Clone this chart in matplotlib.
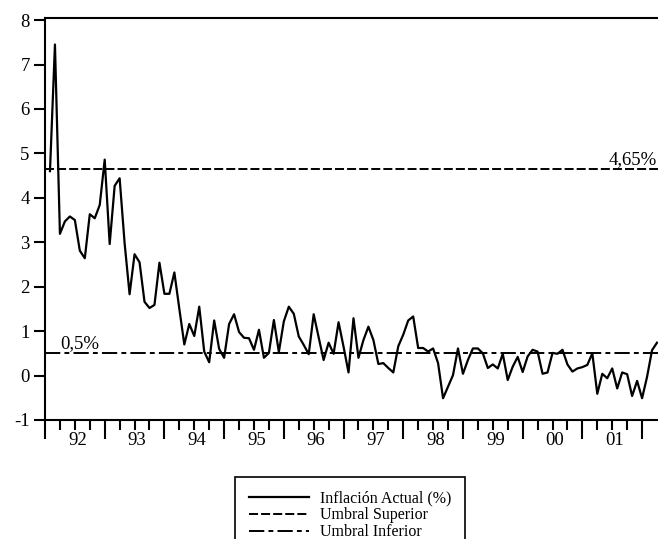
import matplotlib
matplotlib.use('Agg')
import matplotlib.pyplot as plt
import numpy as np

plt.rcParams['font.family'] = ['Liberation Serif', 'DejaVu Serif']
plt.rcParams['lines.scale_dashes'] = False
plt.rcParams['axes.unicode_minus'] = False

# monthly inflation (%), Jan 1992 - Mar 2002
inflacion = [
    4.60, 7.45, 3.19, 3.47, 3.58, 3.50, 2.81, 2.64, 3.63, 3.54, 3.84, 4.86,
    2.96, 4.27, 4.44, 2.98, 1.83, 2.73, 2.55, 1.66, 1.52, 1.59, 2.54, 1.84,
    1.84, 2.32, 1.50, 0.70, 1.16, 0.89, 1.55, 0.54, 0.30, 1.24, 0.60, 0.40,
    1.16, 1.38, 0.98, 0.85, 0.84, 0.58, 1.03, 0.40, 0.51, 1.25, 0.53, 1.22,
    1.55, 1.39, 0.88, 0.69, 0.48, 1.38, 0.86, 0.35, 0.74, 0.49, 1.20, 0.65,
    0.07, 1.29, 0.40, 0.80, 1.10, 0.80, 0.26, 0.28, 0.17, 0.07, 0.66, 0.92,
    1.24, 1.33, 0.62, 0.62, 0.54, 0.61, 0.28, -0.51, -0.25, 0.01, 0.61, 0.04,
    0.35, 0.61, 0.61, 0.50, 0.17, 0.25, 0.16, 0.49, -0.10, 0.20, 0.42, 0.08,
    0.43, 0.58, 0.54, 0.04, 0.07, 0.51, 0.49, 0.58, 0.25, 0.09, 0.16, 0.19,
    0.24, 0.50, -0.41, 0.04, -0.06, 0.16, -0.29, 0.07, 0.03, -0.46, -0.12, -0.51,
    -0.03, 0.57, 0.74,
]
umbral_sup = 4.65
umbral_inf = 0.5
anios = ['92', '93', '94', '95', '96', '97', '98', '99', '00', '01']

fig = plt.figure(figsize=(6.58, 5.39), dpi=100)
ax = fig.add_axes([45 / 658, 119 / 539, 613 / 658, 401.7 / 539])

x = np.arange(len(inflacion))
l1, = ax.plot(x, inflacion, color='black', lw=1.6, label='Inflación Actual (%)')
l2 = ax.axhline(umbral_sup, color='black', lw=1.4, dashes=(6.5, 2.2),
                label='Umbral Superior')
l3 = ax.axhline(umbral_inf, color='black', lw=1.4, dashes=(11, 3, 3.5, 3),
                label='Umbral Inferior')

ax.text(122.0, umbral_sup + 0.02, '4,65%', ha='right', va='bottom', fontsize=13.5)
ax.text(2.0, umbral_inf + 0.02, '0,5%', ha='left', va='bottom', fontsize=13.5)

ax.set_xlim(0, 122.2)
ax.set_ylim(-1, 8.04)
ax.set_yticks(range(-1, 9))
ax.tick_params(axis='y', direction='out', length=8, width=1.5, labelsize=13.5, pad=3)

ax.set_xticks([-1 + 12 * j for j in range(11)])
ax.set_xticks([2 + 3 * j for j in range(40)], minor=True)
ax.set_xticklabels([])
ax.tick_params(axis='x', which='major', direction='out', length=14, width=1.5)
ax.tick_params(axis='x', which='minor', direction='out', length=7, width=1.5)
for i, a in enumerate(anios):
    ax.text(5.5 + 12 * i, -1.27, a, ha='center', va='top', fontsize=13.5)

for s in ['left', 'top', 'bottom']:
    ax.spines[s].set_linewidth(1.5)
ax.spines['right'].set_visible(False)

leg = fig.legend(handles=[l1, l2, l3], loc='upper left',
                 bbox_to_anchor=(235 / 658, 62 / 539), fontsize=11.5,
                 frameon=True, fancybox=False, edgecolor='black', framealpha=1,
                 handlelength=3.8, handletextpad=0.7, labelspacing=0.05,
                 borderpad=0.85, borderaxespad=0)
leg.get_frame().set_linewidth(1.2)

fig.savefig('out.png', dpi=100)
